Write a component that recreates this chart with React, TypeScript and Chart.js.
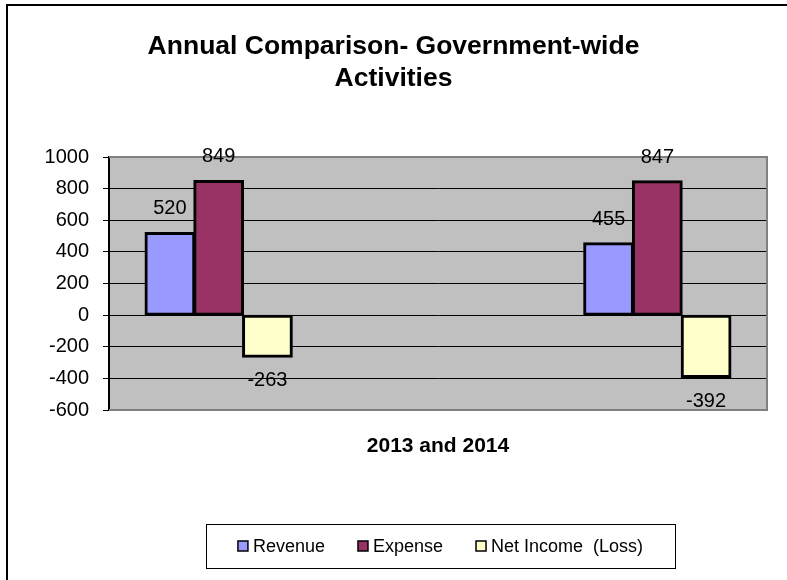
import React, { useEffect, useRef } from 'react';
import { Chart, registerables } from 'chart.js';

Chart.register(...registerables);

// ---- data ----
const categories = ['2013', '', '2014'];
const revenue = [520, null, 455];
const expense = [849, null, 847];
const netIncome = [-263, null, -392];
const seriesNames = ['Revenue', 'Expense', 'Net Income  (Loss)'];
const seriesColors = ['#9999FF', '#993366', '#FFFFCC'];
const yMin = -600;
const yMax = 1000;
const yStep = 200;
const titleLines = ['Annual Comparison- Government-wide', 'Activities'];
const xTitle = '2013 and 2014';

const FONT = '"Liberation Sans", Arial, Helvetica, sans-serif';

const decorPlugin = {
  id: 'decor',
  beforeDraw(chart: any) {
    const { ctx, width, height, chartArea: a } = chart;
    ctx.save();
    ctx.fillStyle = '#ffffff';
    ctx.fillRect(0, 0, width, height);
    // outer frame (left and top visible)
    ctx.fillStyle = '#000000';
    ctx.fillRect(6, 4, width - 6, 2);
    ctx.fillRect(6, 4, 2, height - 4);
    // plot background
    ctx.fillStyle = '#C0C0C0';
    ctx.fillRect(a.left, a.top, a.right - a.left, a.bottom - a.top);
    // title
    ctx.fillStyle = '#000000';
    ctx.textAlign = 'center';
    ctx.textBaseline = 'middle';
    ctx.font = `bold 26.5px ${FONT}`;
    ctx.fillText(titleLines[0], width / 2, 47);
    ctx.fillText(titleLines[1], width / 2, 79);
    // x axis title
    ctx.font = `bold 21px ${FONT}`;
    ctx.fillText(xTitle, (a.left + a.right) / 2, a.bottom + 36);
    // legend
    const boxL = 206, boxT = 524, boxW = 469, boxH = 44;
    ctx.lineWidth = 1;
    ctx.strokeStyle = '#000000';
    ctx.strokeRect(boxL + 0.5, boxT + 0.5, boxW, boxH);
    ctx.font = `18px ${FONT}`;
    const widths = seriesNames.map((n) => ctx.measureText(n).width);
    const gap = 33;
    const total = widths.reduce((s, w) => s + 15 + w, 0) + gap * (seriesNames.length - 1);
    let x = boxL + boxW / 2 - total / 2;
    const cy = boxT + boxH / 2;
    ctx.textAlign = 'left';
    seriesNames.forEach((n, i) => {
      ctx.fillStyle = seriesColors[i];
      ctx.fillRect(x, cy - 5, 10, 10);
      ctx.lineWidth = 1.5;
      ctx.strokeStyle = '#000000';
      ctx.strokeRect(x, cy - 5, 10, 10);
      ctx.fillStyle = '#000000';
      ctx.fillText(n, x + 15, cy + 1);
      x += 15 + widths[i] + gap;
    });
    ctx.restore();
  },
  beforeDatasetsDraw(chart: any) {
    const { ctx, chartArea: a } = chart;
    ctx.save();
    ctx.strokeStyle = '#808080';
    ctx.lineWidth = 2;
    ctx.beginPath();
    ctx.moveTo(a.left, a.top);
    ctx.lineTo(a.right, a.top);
    ctx.lineTo(a.right, a.bottom);
    ctx.lineTo(a.left, a.bottom);
    ctx.stroke();
    ctx.restore();
  },
  afterDatasetsDraw(chart: any) {
    const { ctx } = chart;
    ctx.save();
    ctx.fillStyle = '#000000';
    ctx.font = `20px ${FONT}`;
    ctx.textAlign = 'center';
    ctx.textBaseline = 'middle';
    chart.data.datasets.forEach((ds: any, i: number) => {
      const meta = chart.getDatasetMeta(i);
      meta.data.forEach((el: any, j: number) => {
        const v = ds.data[j];
        if (v === null || v === undefined) return;
        const y = v >= 0 ? el.y - 24 : el.y + 24;
        ctx.fillText(String(v), el.x, y);
      });
    });
    ctx.restore();
  },
};

export default function App() {
  const ref = useRef<HTMLCanvasElement>(null);
  useEffect(() => {
    document.body.style.margin = '0';
    if (!ref.current) return;
    const series = [revenue, expense, netIncome];
    const chart = new Chart(ref.current, {
      type: 'bar',
      data: {
        labels: categories,
        datasets: series.map((d, i) => ({
          label: seriesNames[i],
          data: d,
          backgroundColor: seriesColors[i],
          borderColor: '#000000',
          borderWidth: 3,
          borderSkipped: false,
          inflateAmount: 1,
          categoryPercentage: 0.667,
          barPercentage: 1.0,
        })),
      },
      options: {
        animation: false,
        responsive: false,
        devicePixelRatio: 1,
        layout: { padding: { left: 0, top: 157, right: 20, bottom: 170 } },
        plugins: {
          legend: { display: false },
          title: { display: false },
          tooltip: { enabled: false },
        },
        scales: {
          x: { display: false, grid: { display: false } },
          y: {
            min: yMin,
            max: yMax,
            afterFit: (s: any) => {
              s.width = 109;
            },
            ticks: {
              stepSize: yStep,
              color: '#000000',
              padding: 14,
              font: { family: FONT, size: 20 },
              callback: (v: any) => String(v),
            },
            grid: {
              color: '#000000',
              lineWidth: 1,
              drawTicks: true,
              tickLength: 6,
            },
            border: { color: '#000000', width: 2 },
          },
        },
      },
      plugins: [decorPlugin],
    });
    return () => chart.destroy();
  }, []);
  return <canvas ref={ref} width={787} height={580} style={{ display: 'block' }} />;
}
